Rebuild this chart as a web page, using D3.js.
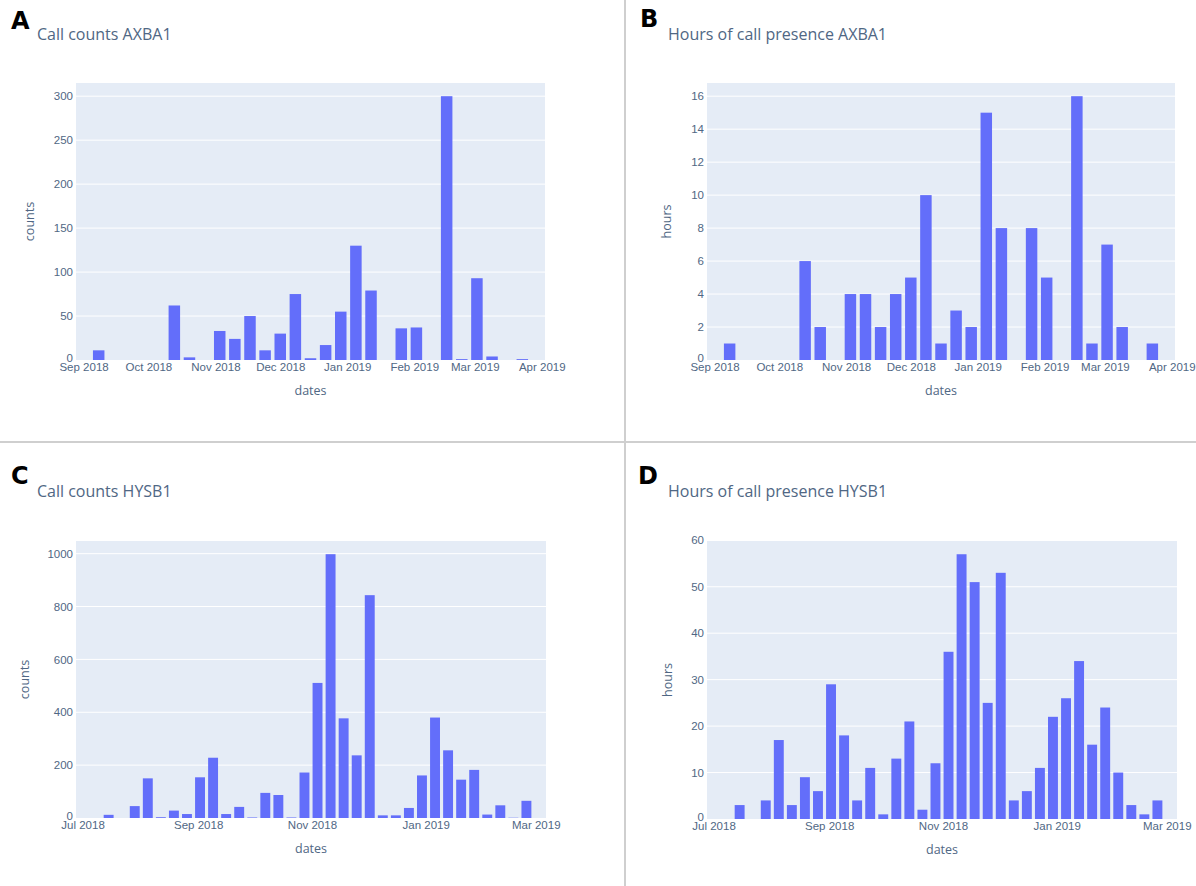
<!DOCTYPE html>
<html>
<head>
<meta charset="utf-8">
<script src="https://cdn.jsdelivr.net/npm/d3@7"></script>
<style>
  body { margin: 0; background: #fff; }
  svg { display: block; font-family: "Open Sans", Verdana, sans-serif; }
  .tick text { fill: #506784; font-size: 11.5px; }
  .title { fill: #506784; font-size: 16px; }
  .axis-title { fill: #506784; font-size: 12.5px; }
  .letter { fill: #000; font-family: "DejaVu Sans", sans-serif; font-weight: bold; font-size: 24px; }
</style>
</head>
<body>
<svg id="chart" width="1196" height="886"></svg>
<script>
// weekly bins, AXBA1
const weeksAXBA1 = ["2018-09-01","2018-09-08","2018-09-15","2018-09-22","2018-09-29","2018-10-06",
  "2018-10-13","2018-10-20","2018-10-27","2018-11-03","2018-11-10","2018-11-17","2018-11-24",
  "2018-12-01","2018-12-08","2018-12-15","2018-12-22","2018-12-29","2019-01-05","2019-01-12",
  "2019-01-19","2019-01-26","2019-02-02","2019-02-09","2019-02-16","2019-02-23","2019-03-02",
  "2019-03-09","2019-03-16","2019-03-23","2019-03-30"];
const countsAXBA1 = [0, 11, 0, 0, 0, 0, 62, 3, 0, 33, 24, 50, 11, 30, 75, 2, 17, 55, 130, 79,
  0, 36, 37, 0, 300, 1, 93, 4, 0, 1, 0];
const hoursAXBA1 = [0, 1, 0, 0, 0, 0, 6, 2, 0, 4, 4, 2, 4, 5, 10, 1, 3, 2, 15, 8,
  0, 8, 5, 0, 16, 1, 7, 2, 0, 1, 0];

// weekly bins, HYSB1
const weeksHYSB1 = ["2018-07-01","2018-07-08","2018-07-15","2018-07-22","2018-07-29","2018-08-05",
  "2018-08-12","2018-08-19","2018-08-26","2018-09-02","2018-09-09","2018-09-16","2018-09-23",
  "2018-09-30","2018-10-07","2018-10-14","2018-10-21","2018-10-28","2018-11-04","2018-11-11",
  "2018-11-18","2018-11-25","2018-12-02","2018-12-09","2018-12-16","2018-12-23","2018-12-30",
  "2019-01-06","2019-01-13","2019-01-20","2019-01-27","2019-02-03","2019-02-10","2019-02-17",
  "2019-02-24","2019-03-03"];
const countsHYSB1 = [0, 0, 12, 0, 45, 150, 3, 28, 15, 154, 228, 15, 42, 2, 95, 87, 2, 172, 511, 998,
  377, 237, 843, 10, 10, 38, 161, 380, 256, 145, 182, 13, 48, 1, 65, 0];
const hoursHYSB1 = [0, 0, 3, 0, 4, 17, 3, 9, 6, 29, 18, 4, 11, 1, 13, 21, 2, 12, 36, 57,
  51, 25, 53, 4, 6, 11, 22, 26, 34, 16, 24, 10, 3, 1, 4, 0];

const yTicksA = [0, 50, 100, 150, 200, 250, 300];
const yTicksB = [0, 2, 4, 6, 8, 10, 12, 14, 16];
const yTicksC = [0, 200, 400, 600, 800, 1000];
const yTicksD = [0, 10, 20, 30, 40, 50, 60];

const svg = d3.select('#chart');
const parse = d3.utcParse('%Y-%m-%d');
const halfWeek = 3.5 * 24 * 3600 * 1000;

// panel dividers
svg.append('line').attr('x1', 625).attr('x2', 625).attr('y1', 0).attr('y2', 886)
  .attr('stroke', '#cfcfcf').attr('stroke-width', 2);
svg.append('line').attr('x1', 0).attr('x2', 1196).attr('y1', 442).attr('y2', 442)
  .attr('stroke', '#cfcfcf').attr('stroke-width', 2);

function drawPanel(p) {
  const dates = p.weeks.map(parse);
  const width = p.right - p.left;
  const height = p.bottom - p.top;

  const x = d3.scaleUtc()
    .domain([new Date(+dates[0] - halfWeek), new Date(+dates[dates.length - 1] + halfWeek)])
    .range([0, width]);
  const y = d3.scaleLinear()
    .domain([0, d3.max(p.values) * 1.05])
    .range([height, 0]);

  const g = svg.append('g').attr('transform', 'translate(' + p.left + ',' + p.top + ')');

  g.append('rect').attr('width', width).attr('height', height).attr('fill', '#e5ecf6');

  // gridlines
  g.selectAll('.grid')
    .data(p.yTicks.filter(d => d > 0))
    .enter().append('line')
    .attr('x1', 0).attr('x2', width)
    .attr('y1', d => y(d)).attr('y2', d => y(d))
    .attr('stroke', '#fff').attr('stroke-width', 1);

  const barW = x(new Date(+dates[0] + halfWeek * 0.76)) - x(new Date(+dates[0] - halfWeek * 0.76));
  g.selectAll('.bar')
    .data(p.values.map((v, i) => ({date: dates[i], value: v})))
    .enter().append('rect')
    .attr('class', 'bar')
    .attr('x', d => x(d.date) - barW / 2)
    .attr('width', barW)
    .attr('y', d => y(d.value))
    .attr('height', d => height - y(d.value))
    .attr('fill', '#636efa');

  const xAxis = d3.axisBottom(x)
    .ticks(p.monthStep === 1 ? d3.utcMonth.every(1) : d3.utcMonth.every(2))
    .tickFormat(d3.utcFormat('%b %Y'))
    .tickSize(0).tickPadding(3);
  g.append('g')
    .attr('transform', 'translate(0,' + height + ')')
    .call(xAxis)
    .call(a => a.select('.domain').remove());

  const yAxis = d3.axisLeft(y).tickValues(p.yTicks).tickFormat(d3.format('d'))
    .tickSize(0).tickPadding(3);
  g.append('g')
    .call(yAxis)
    .call(a => a.select('.domain').remove())
    .call(a => a.selectAll('.tick text').filter(d => d === 0).attr('dy', '0.1em'));

  svg.append('text').attr('class', 'letter')
    .attr('x', p.letterX).attr('y', p.letterY).text(p.letter);
  svg.append('text').attr('class', 'title')
    .attr('x', p.titleX).attr('y', p.titleY).text(p.title);
  svg.append('text').attr('class', 'axis-title')
    .attr('text-anchor', 'middle')
    .attr('x', p.left + width / 2).attr('y', p.bottom + 35)
    .text('dates');
  svg.append('text').attr('class', 'axis-title')
    .attr('text-anchor', 'middle')
    .attr('transform', 'translate(' + p.yTitleX + ',' + (p.top + height / 2) + ') rotate(-90)')
    .text(p.yTitle);
}

drawPanel({letter: 'A', letterX: 11, letterY: 29, title: 'Call counts AXBA1', titleX: 37, titleY: 40,
  weeks: weeksAXBA1, values: countsAXBA1, yTicks: yTicksA, yTitle: 'counts', yTitleX: 34,
  left: 76, right: 545, top: 83, bottom: 360, monthStep: 1});
drawPanel({letter: 'B', letterX: 640, letterY: 27, title: 'Hours of call presence AXBA1', titleX: 668, titleY: 40,
  weeks: weeksAXBA1, values: hoursAXBA1, yTicks: yTicksB, yTitle: 'hours', yTitleX: 671,
  left: 707, right: 1175, top: 83, bottom: 360, monthStep: 1});
drawPanel({letter: 'C', letterX: 11, letterY: 484, title: 'Call counts HYSB1', titleX: 37, titleY: 497,
  weeks: weeksHYSB1, values: countsHYSB1, yTicks: yTicksC, yTitle: 'counts', yTitleX: 29,
  left: 76, right: 546, top: 541, bottom: 818, monthStep: 2});
drawPanel({letter: 'D', letterX: 638, letterY: 484, title: 'Hours of call presence HYSB1', titleX: 668, titleY: 497,
  weeks: weeksHYSB1, values: hoursHYSB1, yTicks: yTicksD, yTitle: 'hours', yTitleX: 672,
  left: 707, right: 1177, top: 541, bottom: 819, monthStep: 2});
</script>
</body>
</html>
